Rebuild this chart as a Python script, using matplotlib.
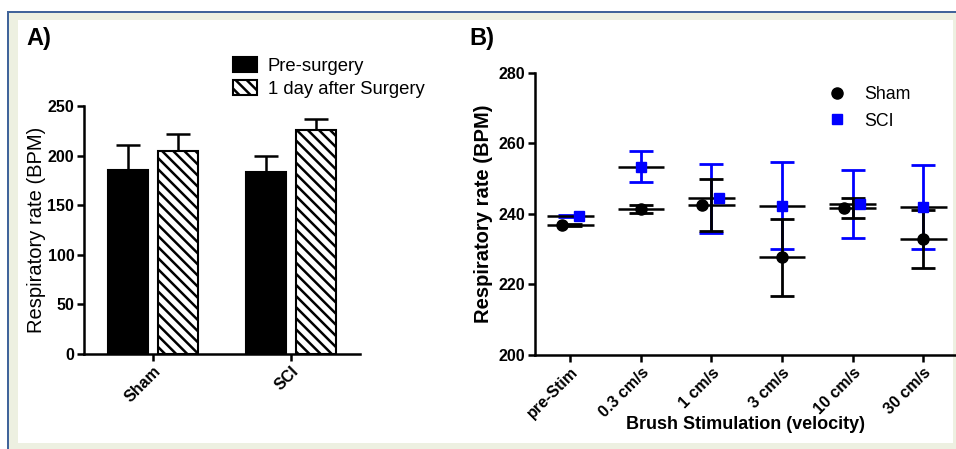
import matplotlib
matplotlib.use("Agg")
import matplotlib.pyplot as plt
import numpy as np
from matplotlib.patches import Rectangle
from matplotlib.lines import Line2D

plt.rcParams["font.family"] = ["Liberation Sans", "DejaVu Sans"]
plt.rcParams["hatch.linewidth"] = 1.8

# Panel A: respiratory rate before / after surgery
GROUPS = ["Sham", "SCI"]
PRE_MEAN = [185, 183]
PRE_ERR = [26, 17]
POST_MEAN = [205, 226]
POST_ERR = [17, 11]

# Panel B: respiratory rate during brush stimulation
VELOCITIES = ["pre-Stim", "0.3 cm/s", "1 cm/s", "3 cm/s", "10 cm/s", "30 cm/s"]
SHAM_MEAN = [237.0, 241.4, 242.6, 227.7, 241.8, 232.9]
SHAM_ERR = [0.3, 1.1, 7.4, 10.9, 2.8, 8.2]
SCI_MEAN = [239.4, 253.4, 244.4, 242.4, 242.9, 241.9]
SCI_ERR = [0.3, 4.4, 9.7, 12.3, 9.6, 11.9]
# horizontal nudge of the markers (GraphPad style, to avoid overlap)
SHAM_DX = [-0.12, 0.0, -0.13, 0.0, -0.12, 0.0]
SCI_DX = [0.12, 0.0, 0.11, 0.0, 0.11, 0.0]

BLUE = "#0000ff"

fig = plt.figure(figsize=(9.56, 4.49), dpi=100)
W, H = 956, 449


def fx(px):
    return px / W


def fy(py):
    return 1 - py / H


# page frame
fig.add_artist(Rectangle((fx(7), 0), fx(956 - 7), fy(11), transform=fig.transFigure,
                         facecolor="#41649a", edgecolor="none", zorder=-3))
fig.add_artist(Rectangle((fx(9), 0), fx(956 - 9), fy(13), transform=fig.transFigure,
                         facecolor="#edf0e1", edgecolor="none", zorder=-2))
fig.add_artist(Rectangle((fx(18), fy(443)), fx(953 - 18), fy(20) - fy(443),
                         transform=fig.transFigure, facecolor="white",
                         edgecolor="none", zorder=-1))


def style_axes(ax, size):
    for side in ("top", "right"):
        ax.spines[side].set_visible(False)
    for side in ("left", "bottom"):
        ax.spines[side].set_linewidth(1.8)
    ax.tick_params(width=1.8, length=5, direction="out", labelsize=size, pad=2)
    for lab in ax.get_yticklabels():
        lab.set_fontweight("bold")
    ax.patch.set_alpha(0)


# ---------- Panel A ----------
axA = fig.add_axes([fx(84), fy(354), fx(360 - 84), fy(106) - fy(354)])
x = np.arange(len(GROUPS))
off, bw = 0.181, 0.29
axA.bar(x - off, PRE_MEAN, bw, color="black", edgecolor="black", linewidth=1.5,
        label="Pre-surgery", zorder=2)
axA.bar(x + off, POST_MEAN, bw, color="white", edgecolor="black", linewidth=1.5,
        hatch="\\\\\\", label="1 day after Surgery", zorder=2)
axA.errorbar(x - off, PRE_MEAN, yerr=[np.zeros(2), PRE_ERR], fmt="none",
             ecolor="black", elinewidth=1.8, capsize=8.5, capthick=1.8, zorder=1)
axA.errorbar(x + off, POST_MEAN, yerr=[np.zeros(2), POST_ERR], fmt="none",
             ecolor="black", elinewidth=1.8, capsize=8.5, capthick=1.8, zorder=1)
axA.set_xlim(-0.5, 1.5)
axA.set_ylim(0, 250)
axA.set_yticks([0, 50, 100, 150, 200, 250])
axA.set_xticks(x)
axA.set_xticklabels(GROUPS, rotation=45, ha="right", rotation_mode="anchor",
                    fontweight="bold")
axA.set_ylabel("Respiratory rate (BPM)", fontsize=14.5, labelpad=1)
style_axes(axA, 11.5)
axA.legend(loc="lower left", bbox_to_anchor=(0.512, 1.004), frameon=False,
           fontsize=13.3, handlelength=1.3, handleheight=0.9, handletextpad=0.6,
           labelspacing=0.25, borderaxespad=0)

fig.text(fx(26), fy(39), "A)", fontsize=17, fontweight="bold", va="center")

# ---------- Panel B ----------
axB = fig.add_axes([fx(535), fy(355), fx(955 - 535), fy(73) - fy(355)])
xv = np.arange(len(VELOCITIES))
axB.hlines(SCI_MEAN, xv - 0.33, xv + 0.33, color="black", linewidth=1.8, zorder=3)
axB.hlines(SHAM_MEAN, xv - 0.33, xv + 0.33, color="black", linewidth=1.8, zorder=3)
axB.errorbar(xv, SCI_MEAN, yerr=SCI_ERR, fmt="none", ecolor=BLUE,
             elinewidth=2, capsize=8.5, capthick=2, zorder=2)
axB.errorbar(xv, SHAM_MEAN, yerr=SHAM_ERR, fmt="none", ecolor="black",
             elinewidth=2, capsize=8.5, capthick=2, zorder=4)
axB.plot(xv + np.array(SCI_DX), SCI_MEAN, "s", color=BLUE, markersize=7.5,
         linestyle="none", zorder=5)
axB.plot(xv + np.array(SHAM_DX), SHAM_MEAN, "o", color="black", markersize=8,
         linestyle="none", zorder=6)
axB.set_xlim(-0.5, 5.45)
axB.set_ylim(200, 280)
axB.set_yticks([200, 220, 240, 260, 280])
axB.set_xticks(xv)
axB.set_xticklabels(VELOCITIES, rotation=45, ha="right", rotation_mode="anchor",
                    fontweight="bold")
axB.set_ylabel("Respiratory rate (BPM)", fontsize=14.5, fontweight="bold", labelpad=4)
axB.set_xlabel("Brush Stimulation (velocity)", fontsize=13, fontweight="bold",
               labelpad=-4)
style_axes(axB, 11.5)
handles = [Line2D([], [], marker="o", color="black", linestyle="none", markersize=8),
           Line2D([], [], marker="s", color=BLUE, linestyle="none", markersize=7.5)]
axB.legend(handles, ["Sham", "SCI"], loc="upper left", bbox_to_anchor=(0.66, 0.98),
           frameon=False, fontsize=12.8, handletextpad=0.5, labelspacing=0.55,
           borderaxespad=0)

fig.text(fx(469), fy(39), "B)", fontsize=17, fontweight="bold", va="center")

fig.savefig("out.png", dpi=100)
